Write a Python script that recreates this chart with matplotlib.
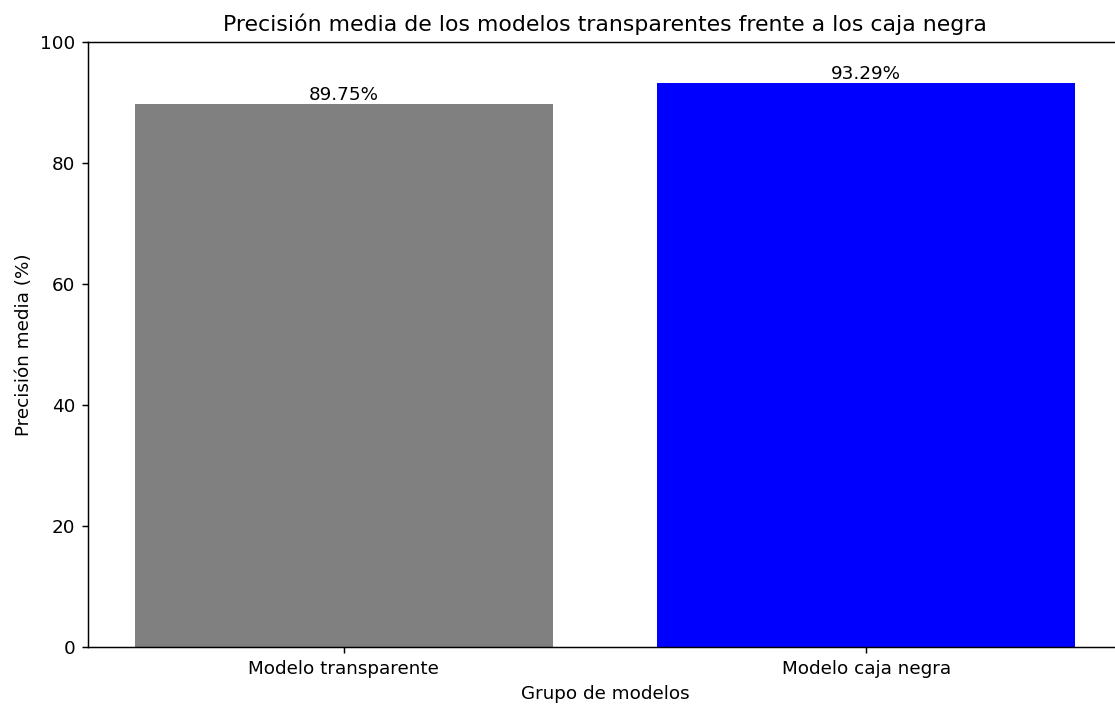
import matplotlib
matplotlib.use("Agg")
import matplotlib.pyplot as plt

categories = ["Modelo transparente", "Modelo caja negra"]
values = [89.75, 93.29]
colors = ["gray", "blue"]

DPI = 132
fig = plt.figure(figsize=(1115 / DPI, 704 / DPI), dpi=DPI)
ax = fig.add_axes([88 / 1115, 57 / 704, 1034 / 1115, 605 / 704])
bars = ax.bar(categories, values, color=colors)
for b, v in zip(bars, values):
    ax.text(b.get_x() + b.get_width() / 2, v, f"{v:.2f}%", ha="center", va="bottom")
ax.set_ylim(0, 100)
ax.set_title("Precisión media de los modelos transparentes frente a los caja negra")
ax.set_xlabel("Grupo de modelos")
ax.set_ylabel("Precisión media (%)")
fig.savefig("out.png", dpi=DPI)
